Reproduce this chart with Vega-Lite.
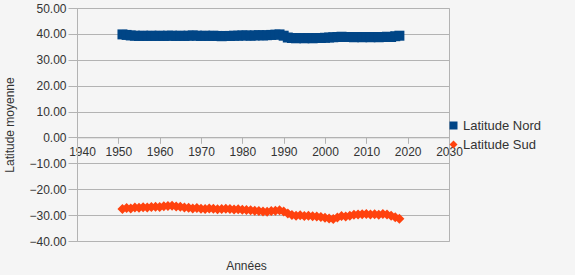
{
  "$schema": "https://vega.github.io/schema/vega-lite/v6.json",
  "width": 372,
  "height": 233,
  "autosize": {"type": "none"},
  "padding": {"left": 77, "top": 8, "right": 126, "bottom": 34},
  "background": "#f5f5f5",
  "config": {
    "view": {"stroke": "#b3b3b3", "strokeWidth": 1},
    "font": "Liberation Sans"
  },
  "data": {
    "values": [
      {"year": 1951, "Latitude Nord": 39.8, "Latitude Sud": -27.6},
      {"year": 1952, "Latitude Nord": 39.6, "Latitude Sud": -27.3},
      {"year": 1953, "Latitude Nord": 39.4, "Latitude Sud": -27.4},
      {"year": 1954, "Latitude Nord": 39.3, "Latitude Sud": -27.1},
      {"year": 1955, "Latitude Nord": 39.2, "Latitude Sud": -27.2},
      {"year": 1956, "Latitude Nord": 39.3, "Latitude Sud": -27.0},
      {"year": 1957, "Latitude Nord": 39.2, "Latitude Sud": -27.1},
      {"year": 1958, "Latitude Nord": 39.3, "Latitude Sud": -26.9},
      {"year": 1959, "Latitude Nord": 39.2, "Latitude Sud": -26.8},
      {"year": 1960, "Latitude Nord": 39.3, "Latitude Sud": -26.9},
      {"year": 1961, "Latitude Nord": 39.2, "Latitude Sud": -26.6},
      {"year": 1962, "Latitude Nord": 39.3, "Latitude Sud": -26.5},
      {"year": 1963, "Latitude Nord": 39.3, "Latitude Sud": -26.4},
      {"year": 1964, "Latitude Nord": 39.2, "Latitude Sud": -26.7},
      {"year": 1965, "Latitude Nord": 39.3, "Latitude Sud": -26.8},
      {"year": 1966, "Latitude Nord": 39.2, "Latitude Sud": -27.1},
      {"year": 1967, "Latitude Nord": 39.3, "Latitude Sud": -27.2},
      {"year": 1968, "Latitude Nord": 39.4, "Latitude Sud": -27.4},
      {"year": 1969, "Latitude Nord": 39.3, "Latitude Sud": -27.3},
      {"year": 1970, "Latitude Nord": 39.2, "Latitude Sud": -27.5},
      {"year": 1971, "Latitude Nord": 39.3, "Latitude Sud": -27.6},
      {"year": 1972, "Latitude Nord": 39.2, "Latitude Sud": -27.4},
      {"year": 1973, "Latitude Nord": 39.3, "Latitude Sud": -27.5},
      {"year": 1974, "Latitude Nord": 39.2, "Latitude Sud": -27.7},
      {"year": 1975, "Latitude Nord": 39.1, "Latitude Sud": -27.6},
      {"year": 1976, "Latitude Nord": 39.2, "Latitude Sud": -27.5},
      {"year": 1977, "Latitude Nord": 39.2, "Latitude Sud": -27.6},
      {"year": 1978, "Latitude Nord": 39.3, "Latitude Sud": -27.8},
      {"year": 1979, "Latitude Nord": 39.3, "Latitude Sud": -27.7},
      {"year": 1980, "Latitude Nord": 39.4, "Latitude Sud": -27.9},
      {"year": 1981, "Latitude Nord": 39.4, "Latitude Sud": -28.0},
      {"year": 1982, "Latitude Nord": 39.3, "Latitude Sud": -28.1},
      {"year": 1983, "Latitude Nord": 39.4, "Latitude Sud": -28.3},
      {"year": 1984, "Latitude Nord": 39.5, "Latitude Sud": -28.4},
      {"year": 1985, "Latitude Nord": 39.4, "Latitude Sud": -28.6},
      {"year": 1986, "Latitude Nord": 39.5, "Latitude Sud": -28.7},
      {"year": 1987, "Latitude Nord": 39.6, "Latitude Sud": -28.4},
      {"year": 1988, "Latitude Nord": 39.7, "Latitude Sud": -28.3},
      {"year": 1989, "Latitude Nord": 39.8, "Latitude Sud": -28.1},
      {"year": 1990, "Latitude Nord": 39.3, "Latitude Sud": -28.6},
      {"year": 1991, "Latitude Nord": 38.6, "Latitude Sud": -29.4},
      {"year": 1992, "Latitude Nord": 38.4, "Latitude Sud": -30.0},
      {"year": 1993, "Latitude Nord": 38.3, "Latitude Sud": -30.2},
      {"year": 1994, "Latitude Nord": 38.4, "Latitude Sud": -30.1},
      {"year": 1995, "Latitude Nord": 38.3, "Latitude Sud": -30.3},
      {"year": 1996, "Latitude Nord": 38.4, "Latitude Sud": -30.2},
      {"year": 1997, "Latitude Nord": 38.3, "Latitude Sud": -30.4},
      {"year": 1998, "Latitude Nord": 38.4, "Latitude Sud": -30.5},
      {"year": 1999, "Latitude Nord": 38.4, "Latitude Sud": -30.7},
      {"year": 2000, "Latitude Nord": 38.5, "Latitude Sud": -31.0},
      {"year": 2001, "Latitude Nord": 38.6, "Latitude Sud": -31.3},
      {"year": 2002, "Latitude Nord": 38.7, "Latitude Sud": -31.5},
      {"year": 2003, "Latitude Nord": 38.8, "Latitude Sud": -30.9},
      {"year": 2004, "Latitude Nord": 38.9, "Latitude Sud": -30.3},
      {"year": 2005, "Latitude Nord": 38.8, "Latitude Sud": -30.5},
      {"year": 2006, "Latitude Nord": 38.8, "Latitude Sud": -30.2},
      {"year": 2007, "Latitude Nord": 38.7, "Latitude Sud": -29.9},
      {"year": 2008, "Latitude Nord": 38.8, "Latitude Sud": -29.8},
      {"year": 2009, "Latitude Nord": 38.7, "Latitude Sud": -29.7},
      {"year": 2010, "Latitude Nord": 38.8, "Latitude Sud": -29.6},
      {"year": 2011, "Latitude Nord": 38.7, "Latitude Sud": -29.8},
      {"year": 2012, "Latitude Nord": 38.8, "Latitude Sud": -29.7},
      {"year": 2013, "Latitude Nord": 38.7, "Latitude Sud": -29.9},
      {"year": 2014, "Latitude Nord": 38.8, "Latitude Sud": -29.6},
      {"year": 2015, "Latitude Nord": 38.9, "Latitude Sud": -29.8},
      {"year": 2016, "Latitude Nord": 38.8, "Latitude Sud": -30.2},
      {"year": 2017, "Latitude Nord": 39.1, "Latitude Sud": -30.8},
      {"year": 2018, "Latitude Nord": 39.3, "Latitude Sud": -31.4}
    ]
  },
  "transform": [
    {"fold": ["Latitude Nord", "Latitude Sud"], "as": ["serie", "value"]}
  ],
  "mark": {"type": "point", "filled": true, "opacity": 1, "size": 100},
  "encoding": {
    "x": {
      "field": "year",
      "type": "quantitative",
      "scale": {"domain": [1940, 2030], "nice": false, "zero": false},
      "axis": {
        "values": [1940, 1950, 1960, 1970, 1980, 1990, 2000, 2010, 2020, 2030],
        "format": "d",
        "grid": false,
        "offset": -103.7,
        "domainColor": "#b3b3b3",
        "tickColor": "#b3b3b3",
        "tickSize": 6,
        "labelFontSize": 12,
        "labelColor": "#333333",
        "labelPadding": 3,
        "labelOffset": {"condition": {"test": "datum.value == 1940", "value": 5}, "value": 0},
        "labelFlush": false,
        "labelOverlap": false,
        "title": "Années",
        "titleFontSize": 12,
        "titleFontWeight": "normal",
        "titleColor": "#333333",
        "titleX": 169,
        "titleY": 128,
        "titleBaseline": "middle"
      }
    },
    "y": {
      "field": "value",
      "type": "quantitative",
      "scale": {"domain": [-40, 50], "nice": false, "zero": false},
      "axis": {
        "values": [-40, -30, -20, -10, 0, 10, 20, 30, 40, 50],
        "format": ".2f",
        "grid": true,
        "gridColor": "#b3b3b3",
        "domainColor": "#b3b3b3",
        "tickColor": "#b3b3b3",
        "tickSize": 9,
        "labelFontSize": 12,
        "labelColor": "#333333",
        "labelPadding": 2,
        "labelFlush": false,
        "labelOverlap": false,
        "title": "Latitude moyenne",
        "titleFontSize": 12,
        "titleFontWeight": "normal",
        "titleColor": "#333333",
        "titleX": -61
      }
    },
    "color": {
      "field": "serie",
      "type": "nominal",
      "scale": {"domain": ["Latitude Nord", "Latitude Sud"], "range": ["#004586", "#ff420e"]},
      "legend": {
        "title": null,
        "orient": "none",
        "legendX": 370,
        "legendY": 111,
        "labelFontSize": 13,
        "labelColor": "#333333",
        "symbolSize": 64,
        "symbolStrokeWidth": 0,
        "rowPadding": 5,
        "labelOffset": 3
      }
    },
    "shape": {
      "field": "serie",
      "type": "nominal",
      "scale": {"domain": ["Latitude Nord", "Latitude Sud"], "range": ["square", "diamond"]}
    }
  }
}
